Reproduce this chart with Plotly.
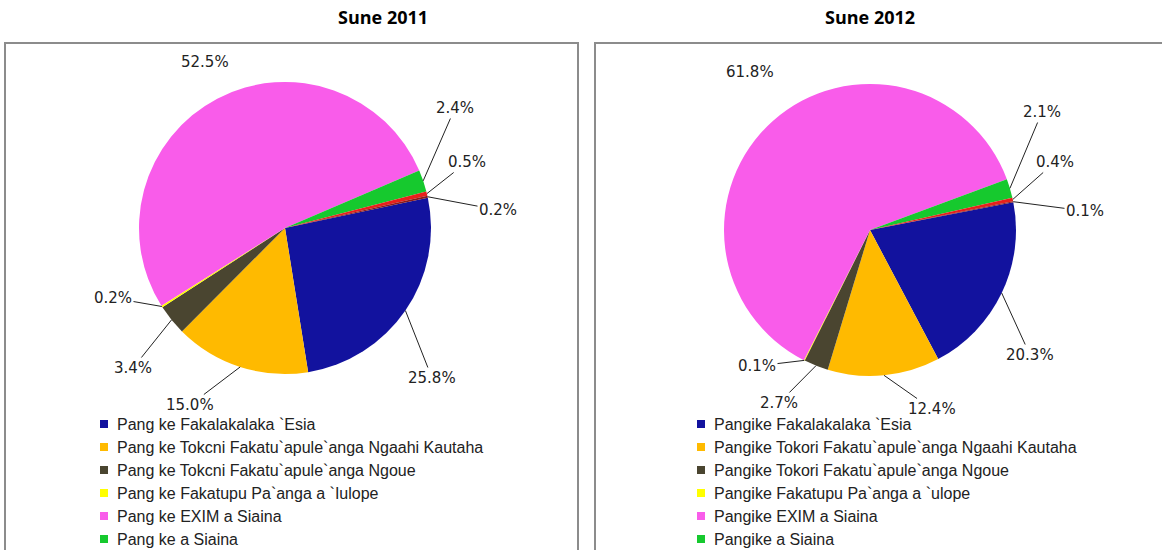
import math
import plotly.graph_objects as go

# ---------------- data ----------------
titles = ["Sune 2011", "Sune 2012"]
slice_keys = ["Fakalakalaka `Esia", "Tokoni Ngaahi Kautaha", "Tokoni Ngoue",
              "Fakatupu Pa`anga `Iulope", "EXIM a Siaina", "a Siaina", "Kehe 1", "Kehe 2"]
legend_2011 = ["Pang ke Fakalakalaka `Esia",
               "Pang ke Tokcni Fakatu`apule`anga Ngaahi Kautaha",
               "Pang ke Tokcni Fakatu`apule`anga Ngoue",
               "Pang ke Fakatupu Pa`anga a `Iulope",
               "Pang ke EXIM a Siaina",
               "Pang ke a Siaina"]
legend_2012 = ["Pangike Fakalakalaka `Esia",
               "Pangike Tokori Fakatu`apule`anga Ngaahi Kautaha",
               "Pangike Tokori Fakatu`apule`anga Ngoue",
               "Pangike Fakatupu Pa`anga a `ulope",
               "Pangike EXIM a Siaina",
               "Pangike a Siaina"]
share_2011 = [25.8, 15.0, 3.4, 0.2, 52.5, 2.4, 0.5, 0.2]
share_2012 = [20.3, 12.4, 2.7, 0.1, 61.8, 2.1, 0.4, 0.1]

# ---------------- style / layout ----------------
W, H = 1162, 550
colors = ["#12129E", "#FFBA00", "#4A4530", "#FFFF00", "#F95CEA", "#16C92E", "#E8201C", "#8A1A1A"]
ROT = [78, 79]
pies = [dict(cx=285, cy=228, r=146), dict(cx=870, cy=230, r=146)]
label_xy = [
    [(432, 378), (190, 405), (133, 368), (113, 298), (205, 62), (455, 108), (467, 162), (498, 210)],
    [(1030, 355), (932, 409), (779, 403), (757, 366), (750, 72), (1042, 112), (1055, 162), (1085, 211)],
]
leader = [True, True, True, True, False, True, True, True]
title_xy = [(383, 17), (870, 17)]
boxes = [(5, 43, 578, 560), (595, 43, 1170, 560)]
legend_sq_x = [100, 697]
legend_txt_x = [115, 712]
legend_y0, legend_dy = 424, 23

LABEL_FONT = dict(family="DejaVu Sans", size=15, color="#222222")
LEGEND_FONT = dict(family="Liberation Sans", size=16, color="#222222")


def px2paper(x, y):
    return x / W, 1 - y / H


fig = go.Figure()
shapes, annotations = [], []
all_shares = [share_2011, share_2012]
all_legends = [legend_2011, legend_2012]

for k, shares in enumerate(all_shares):
    p = pies[k]
    cx, cy, r = p["cx"], p["cy"], p["r"]
    rot = ROT[k]
    fig.add_trace(go.Pie(
        labels=[f"{slice_keys[i]} {titles[k]}" for i in range(len(shares))],
        values=shares, sort=False, direction="clockwise", rotation=rot,
        marker=dict(colors=colors, line=dict(width=0)),
        textinfo="none", hoverinfo="label+value", showlegend=False,
        domain=dict(x=[(cx - r) / W, (cx + r) / W], y=[1 - (cy + r) / H, 1 - (cy - r) / H]),
    ))
    total = sum(shares)
    cum = 0.0
    for i, v in enumerate(shares):
        ang = math.radians(rot + 360 * (cum + v / 2) / total)
        cum += v
        ax_px = cx + r * math.sin(ang)
        ay_px = cy - r * math.cos(ang)
        lx, ly = label_xy[k][i]
        if leader[i]:
            xa, ya = px2paper(ax_px, ay_px)
            annotations.append(dict(
                x=xa, y=ya, xref="paper", yref="paper",
                text=f"{v:.1f}%", font=LABEL_FONT,
                showarrow=True, arrowhead=0, arrowwidth=1, arrowcolor="#222222",
                ax=lx - ax_px, ay=ly - ay_px, standoff=0))
        else:
            annotations.append(dict(
                x=lx / W, y=1 - ly / H, xref="paper", yref="paper",
                xanchor="center", yanchor="middle",
                text=f"{v:.1f}%", font=LABEL_FONT, showarrow=False))

    # box
    bx0, by0, bx1, by1 = boxes[k]
    shapes.append(dict(type="rect", xref="paper", yref="paper",
                       x0=bx0 / W, x1=bx1 / W, y0=1 - by1 / H, y1=1 - by0 / H,
                       line=dict(color="#8C8C8C", width=2), layer="below"))
    # title
    tx, ty = title_xy[k]
    annotations.append(dict(x=tx / W, y=1 - ty / H, xref="paper", yref="paper",
                            xanchor="center", yanchor="middle",
                            text=f"<b>{titles[k]}</b>", showarrow=False,
                            font=dict(family="Open Sans", size=18, color="#000000")))
    # legend
    for i, name in enumerate(all_legends[k]):
        yy = legend_y0 + legend_dy * i
        sx = legend_sq_x[k]
        shapes.append(dict(type="rect", xref="paper", yref="paper",
                           x0=sx / W, x1=(sx + 8) / W, y0=1 - (yy + 4) / H, y1=1 - (yy - 4) / H,
                           fillcolor=colors[i], line=dict(width=0)))
        annotations.append(dict(x=legend_txt_x[k] / W, y=1 - yy / H, xref="paper", yref="paper",
                                text=name, showarrow=False, xanchor="left", yanchor="middle",
                                font=LEGEND_FONT))

fig.update_layout(
    width=W, height=H, margin=dict(l=0, r=0, t=0, b=0),
    paper_bgcolor="white", plot_bgcolor="white",
    showlegend=False, shapes=shapes, annotations=annotations,
)
fig.write_html("out.html", config={"displayModeBar": False},
               post_script="document.body.style.margin='0';")
